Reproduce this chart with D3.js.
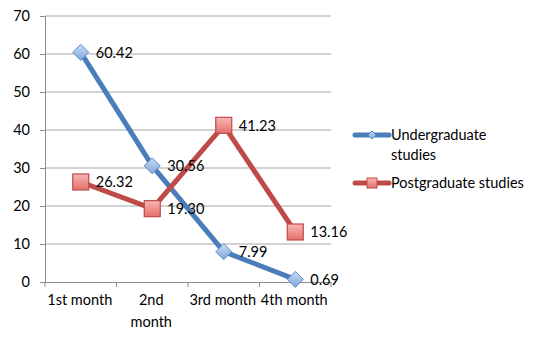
<!DOCTYPE html>
<html>
<head>
<meta charset="utf-8">
<script src="https://cdn.jsdelivr.net/npm/d3@7"></script>
<style>
  html, body { margin: 0; padding: 0; background: #fff; }
  svg text { font-family: Lato, "Open Sans", sans-serif; fill: #000; }
</style>
</head>
<body>
<svg id="chart" width="540" height="341"></svg>
<script>
const months = ["1st month", "2nd month", "3rd month", "4th month"];
const monthLines = [["1st month"], ["2nd", "month"], ["3rd month"], ["4th month"]];
const undergraduate = [60.42, 30.56, 7.99, 0.69];
const postgraduate = [26.32, 19.30, 41.23, 13.16];
const yTicks = [0, 10, 20, 30, 40, 50, 60, 70];

const FS = 14.5;
const svg = d3.select("#chart");
const plotLeft = 45, plotRight = 331, plotTop = 16, plotBottom = 282;

const x = d3.scaleBand().domain(months).range([plotLeft, plotRight]);
const y = d3.scaleLinear().domain([0, 70]).range([plotBottom, plotTop]);

// horizontal gridlines
svg.append("g").selectAll("line").data(yTicks.filter(d => d > 0)).join("line")
  .attr("x1", plotLeft).attr("x2", plotRight)
  .attr("y1", d => y(d)).attr("y2", d => y(d))
  .attr("stroke", "#a6a6a6").attr("stroke-width", 1);

// y axis
const yAxis = svg.append("g").attr("transform", `translate(${plotLeft},0)`)
  .call(d3.axisLeft(y).tickValues(yTicks).tickSize(5).tickPadding(10));
yAxis.select(".domain").attr("stroke", "#8c8c8c");
yAxis.selectAll(".tick line").attr("stroke", "#8c8c8c");
yAxis.selectAll("text").attr("font-size", FS).style("font-family", "Lato, 'Open Sans', sans-serif");

// x axis
const xAxis = svg.append("g").attr("transform", `translate(0,${plotBottom})`)
  .call(d3.axisBottom(x).tickValues([]).tickSizeOuter(0));
xAxis.select(".domain").attr("stroke", "#8c8c8c");
const bounds = months.map(m => x(m)).concat([plotRight]);
xAxis.selectAll(".sep").data(bounds).join("line").attr("class", "sep")
  .attr("x1", d => d).attr("x2", d => d).attr("y1", 0).attr("y2", 5)
  .attr("stroke", "#8c8c8c");
const xl = xAxis.selectAll(".lab").data(months).join("text").attr("class", "lab")
  .attr("x", d => x(d) + x.bandwidth() / 2).attr("y", 23)
  .attr("text-anchor", "middle").attr("font-size", FS);
xl.each(function(d, i) {
  d3.select(this).selectAll("tspan").data(monthLines[i]).join("tspan")
    .attr("x", x(d) + x.bandwidth() / 2 - 1)
    .attr("dy", (t, j) => j === 0 ? 0 : 22)
    .text(t => t);
});

const cx = m => x(m) + x.bandwidth() / 2;
const defs = svg.append("defs");
const gb = defs.append("linearGradient").attr("id", "gBlue").attr("x1", 0).attr("y1", 0).attr("x2", 0).attr("y2", 1);
gb.append("stop").attr("offset", "0%").attr("stop-color", "#c9dcf3");
gb.append("stop").attr("offset", "100%").attr("stop-color", "#7ea6dc");
const gr = defs.append("linearGradient").attr("id", "gRed").attr("x1", 0).attr("y1", 0).attr("x2", 0).attr("y2", 1);
gr.append("stop").attr("offset", "0%").attr("stop-color", "#f7b8b6");
gr.append("stop").attr("offset", "100%").attr("stop-color", "#e46f6b");

const series = [
  { name: "Undergraduate studies", values: undergraduate, color: "#4a7ebb", fill: "url(#gBlue)", stroke: "#5b8cc8", shape: "diamond" },
  { name: "Postgraduate studies", values: postgraduate, color: "#be4b48", fill: "url(#gRed)", stroke: "#be4b48", shape: "square" }
];

const line = d3.line().x((d, i) => cx(months[i])).y(d => y(d));

function marker(g, shape, fill, stroke) {
  if (shape === "diamond") {
    g.append("path").attr("d", "M0,-8L8,0L0,8L-8,0Z")
      .attr("fill", fill).attr("stroke", stroke).attr("stroke-width", 1);
  } else {
    g.append("rect").attr("x", -8).attr("y", -8).attr("width", 16).attr("height", 16)
      .attr("fill", fill).attr("stroke", stroke).attr("stroke-width", 1.2);
  }
}

series.forEach(s => {
  svg.append("path").datum(s.values).attr("d", line)
    .attr("fill", "none").attr("stroke", s.color).attr("stroke-width", 5)
    .attr("stroke-linejoin", "round");
});
series.forEach(s => {
  s.values.forEach((v, i) => {
    const g = svg.append("g").attr("transform", `translate(${cx(months[i])},${y(v)})`);
    marker(g, s.shape, s.fill, s.stroke);
  });
});
series.forEach(s => {
  svg.append("g").selectAll("text").data(s.values).join("text")
    .attr("x", (d, i) => cx(months[i]) + 15)
    .attr("y", d => y(d)).attr("dy", "0.36em")
    .attr("font-size", FS)
    .text(d => d.toFixed(2));
});

// legend
const legend = [
  { s: series[0], y: 135, lines: ["Undergraduate", "studies"] },
  { s: series[1], y: 183, lines: ["Postgraduate studies"] }
];
legend.forEach(L => {
  const g = svg.append("g");
  g.append("line").attr("x1", 355).attr("x2", 389).attr("y1", L.y).attr("y2", L.y)
    .attr("stroke", L.s.color).attr("stroke-width", 5).attr("stroke-linecap", "round");
  const m = g.append("g").attr("transform", `translate(372,${L.y})`);
  if (L.s.shape === "diamond") {
    m.append("path").attr("d", "M0,-4L4,0L0,4L-4,0Z").attr("fill", L.s.fill).attr("stroke", L.s.stroke);
  } else {
    m.append("rect").attr("x", -5).attr("y", -5).attr("width", 10).attr("height", 10)
      .attr("fill", L.s.fill).attr("stroke", L.s.stroke);
  }
  const t = g.append("text").attr("x", 391).attr("y", L.y).attr("font-size", FS);
  t.selectAll("tspan").data(L.lines).join("tspan")
    .attr("x", 391).attr("dy", (d, j) => j === 0 ? "0.36em" : 20).text(d => d);
});
</script>
</body>
</html>
